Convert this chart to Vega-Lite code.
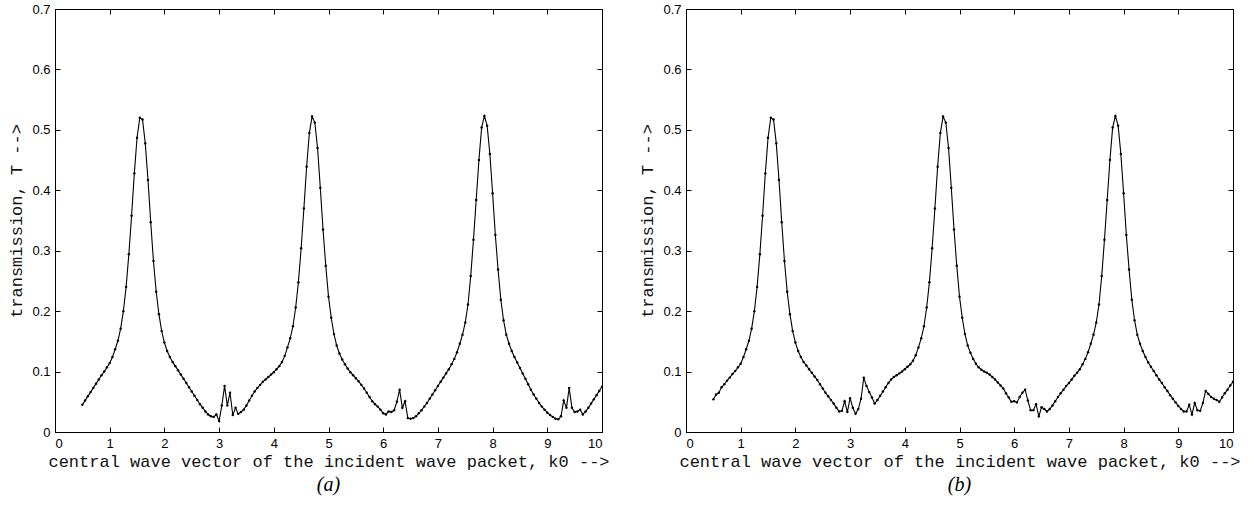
{
  "$schema": "https://vega.github.io/schema/vega-lite/v6.json",
  "background": "white",
  "padding": {"left": 7, "top": 2, "right": 5, "bottom": 0},
  "spacing": 28,
  "config": {
    "view": {"stroke": "black", "strokeWidth": 1},
    "axis": {
      "grid": false,
      "labelFont": "Liberation Sans",
      "labelFontSize": 13,
      "labelColor": "black",
      "titleFont": "Liberation Mono",
      "titleFontSize": 17,
      "titleFontWeight": "normal",
      "titleColor": "#111",
      "tickColor": "black",
      "domainColor": "black",
      "tickSize": -5,
      "labelPadding": 10
    },
    "title": {"font": "Liberation Serif", "fontStyle": "italic", "fontSize": 20, "fontWeight": "normal", "color": "black"}
  },
  "datasets": {
    "a": [
      {"k":0.5,"T":0.045},{"k":0.55,"T":0.052},{"k":0.6,"T":0.059},{"k":0.65,"T":0.066},{"k":0.7,"T":0.073},{"k":0.75,"T":0.080},{"k":0.8,"T":0.087},{"k":0.85,"T":0.094},{"k":0.9,"T":0.100},{"k":0.95,"T":0.107},
      {"k":1.0,"T":0.114},{"k":1.05,"T":0.124},{"k":1.1,"T":0.137},{"k":1.15,"T":0.151},{"k":1.2,"T":0.171},{"k":1.25,"T":0.200},{"k":1.3,"T":0.240},{"k":1.35,"T":0.294},{"k":1.4,"T":0.358},{"k":1.45,"T":0.428},
      {"k":1.5,"T":0.487},{"k":1.55,"T":0.520},{"k":1.6,"T":0.517},{"k":1.65,"T":0.478},{"k":1.7,"T":0.417},{"k":1.75,"T":0.347},{"k":1.8,"T":0.283},{"k":1.85,"T":0.232},{"k":1.9,"T":0.195},{"k":1.95,"T":0.167},
      {"k":2.0,"T":0.148},{"k":2.05,"T":0.134},{"k":2.1,"T":0.124},{"k":2.15,"T":0.116},{"k":2.2,"T":0.109},{"k":2.25,"T":0.102},{"k":2.3,"T":0.095},{"k":2.35,"T":0.088},{"k":2.4,"T":0.081},{"k":2.45,"T":0.074},
      {"k":2.5,"T":0.067},{"k":2.55,"T":0.060},{"k":2.6,"T":0.053},{"k":2.65,"T":0.046},{"k":2.7,"T":0.040},{"k":2.75,"T":0.034},{"k":2.8,"T":0.029},{"k":2.85,"T":0.026},{"k":2.9,"T":0.025},{"k":2.95,"T":0.029},
      {"k":3.0,"T":0.018},{"k":3.05,"T":0.044},{"k":3.1,"T":0.076},{"k":3.15,"T":0.044},{"k":3.2,"T":0.065},{"k":3.25,"T":0.028},{"k":3.3,"T":0.040},{"k":3.35,"T":0.030},{"k":3.4,"T":0.033},{"k":3.45,"T":0.037},
      {"k":3.5,"T":0.044},{"k":3.55,"T":0.052},{"k":3.6,"T":0.060},{"k":3.65,"T":0.067},{"k":3.7,"T":0.073},{"k":3.75,"T":0.078},{"k":3.8,"T":0.083},{"k":3.85,"T":0.087},{"k":3.9,"T":0.091},{"k":3.95,"T":0.095},
      {"k":4.0,"T":0.099},{"k":4.05,"T":0.104},{"k":4.1,"T":0.109},{"k":4.15,"T":0.116},{"k":4.2,"T":0.126},{"k":4.25,"T":0.140},{"k":4.3,"T":0.155},{"k":4.35,"T":0.175},{"k":4.4,"T":0.206},{"k":4.45,"T":0.248},
      {"k":4.5,"T":0.304},{"k":4.55,"T":0.370},{"k":4.6,"T":0.439},{"k":4.65,"T":0.495},{"k":4.7,"T":0.522},{"k":4.75,"T":0.512},{"k":4.8,"T":0.470},{"k":4.85,"T":0.404},{"k":4.9,"T":0.335},{"k":4.95,"T":0.275},
      {"k":5.0,"T":0.224},{"k":5.05,"T":0.189},{"k":5.1,"T":0.162},{"k":5.15,"T":0.143},{"k":5.2,"T":0.130},{"k":5.25,"T":0.120},{"k":5.3,"T":0.112},{"k":5.35,"T":0.105},{"k":5.4,"T":0.099},{"k":5.45,"T":0.094},
      {"k":5.5,"T":0.089},{"k":5.55,"T":0.084},{"k":5.6,"T":0.078},{"k":5.65,"T":0.072},{"k":5.7,"T":0.065},{"k":5.75,"T":0.058},{"k":5.8,"T":0.051},{"k":5.85,"T":0.046},{"k":5.9,"T":0.042},{"k":5.95,"T":0.037},
      {"k":6.0,"T":0.031},{"k":6.05,"T":0.029},{"k":6.1,"T":0.034},{"k":6.15,"T":0.033},{"k":6.2,"T":0.036},{"k":6.25,"T":0.050},{"k":6.3,"T":0.070},{"k":6.35,"T":0.040},{"k":6.4,"T":0.051},{"k":6.45,"T":0.023},
      {"k":6.5,"T":0.022},{"k":6.55,"T":0.023},{"k":6.6,"T":0.026},{"k":6.65,"T":0.031},{"k":6.7,"T":0.036},{"k":6.75,"T":0.042},{"k":6.8,"T":0.048},{"k":6.85,"T":0.055},{"k":6.9,"T":0.062},{"k":6.95,"T":0.069},
      {"k":7.0,"T":0.076},{"k":7.05,"T":0.083},{"k":7.1,"T":0.090},{"k":7.15,"T":0.097},{"k":7.2,"T":0.104},{"k":7.25,"T":0.112},{"k":7.3,"T":0.121},{"k":7.35,"T":0.132},{"k":7.4,"T":0.146},{"k":7.45,"T":0.161},
      {"k":7.5,"T":0.181},{"k":7.55,"T":0.211},{"k":7.6,"T":0.258},{"k":7.65,"T":0.318},{"k":7.7,"T":0.384},{"k":7.75,"T":0.450},{"k":7.8,"T":0.504},{"k":7.85,"T":0.523},{"k":7.9,"T":0.507},{"k":7.95,"T":0.460},
      {"k":8.0,"T":0.395},{"k":8.05,"T":0.326},{"k":8.1,"T":0.269},{"k":8.15,"T":0.219},{"k":8.2,"T":0.185},{"k":8.25,"T":0.161},{"k":8.3,"T":0.146},{"k":8.35,"T":0.134},{"k":8.4,"T":0.124},{"k":8.45,"T":0.115},
      {"k":8.5,"T":0.106},{"k":8.55,"T":0.097},{"k":8.6,"T":0.088},{"k":8.65,"T":0.079},{"k":8.7,"T":0.070},{"k":8.75,"T":0.062},{"k":8.8,"T":0.055},{"k":8.85,"T":0.048},{"k":8.9,"T":0.042},{"k":8.95,"T":0.037},
      {"k":9.0,"T":0.032},{"k":9.05,"T":0.028},{"k":9.1,"T":0.025},{"k":9.15,"T":0.022},{"k":9.2,"T":0.021},{"k":9.25,"T":0.026},{"k":9.3,"T":0.052},{"k":9.35,"T":0.040},{"k":9.4,"T":0.073},{"k":9.45,"T":0.040},
      {"k":9.5,"T":0.033},{"k":9.55,"T":0.034},{"k":9.6,"T":0.037},{"k":9.65,"T":0.029},{"k":9.7,"T":0.034},{"k":9.75,"T":0.040},{"k":9.8,"T":0.047},{"k":9.85,"T":0.054},{"k":9.9,"T":0.061},{"k":9.95,"T":0.068},
      {"k":10.0,"T":0.075}
    ],
    "b": [
      {"k":0.5,"T":0.054},{"k":0.55,"T":0.062},{"k":0.6,"T":0.065},{"k":0.65,"T":0.074},{"k":0.7,"T":0.079},{"k":0.75,"T":0.085},{"k":0.8,"T":0.090},{"k":0.85,"T":0.096},{"k":0.9,"T":0.101},{"k":0.95,"T":0.107},
      {"k":1.0,"T":0.113},{"k":1.05,"T":0.124},{"k":1.1,"T":0.137},{"k":1.15,"T":0.151},{"k":1.2,"T":0.171},{"k":1.25,"T":0.200},{"k":1.3,"T":0.240},{"k":1.35,"T":0.294},{"k":1.4,"T":0.358},{"k":1.45,"T":0.428},
      {"k":1.5,"T":0.487},{"k":1.55,"T":0.520},{"k":1.6,"T":0.517},{"k":1.65,"T":0.478},{"k":1.7,"T":0.417},{"k":1.75,"T":0.347},{"k":1.8,"T":0.283},{"k":1.85,"T":0.232},{"k":1.9,"T":0.195},{"k":1.95,"T":0.167},
      {"k":2.0,"T":0.148},{"k":2.05,"T":0.134},{"k":2.1,"T":0.124},{"k":2.15,"T":0.116},{"k":2.2,"T":0.110},{"k":2.25,"T":0.104},{"k":2.3,"T":0.098},{"k":2.35,"T":0.092},{"k":2.4,"T":0.086},{"k":2.45,"T":0.079},
      {"k":2.5,"T":0.072},{"k":2.55,"T":0.065},{"k":2.6,"T":0.059},{"k":2.65,"T":0.053},{"k":2.7,"T":0.047},{"k":2.75,"T":0.040},{"k":2.8,"T":0.034},{"k":2.85,"T":0.035},{"k":2.9,"T":0.051},{"k":2.95,"T":0.033},
      {"k":3.0,"T":0.056},{"k":3.05,"T":0.040},{"k":3.1,"T":0.030},{"k":3.15,"T":0.038},{"k":3.2,"T":0.055},{"k":3.25,"T":0.090},{"k":3.3,"T":0.076},{"k":3.35,"T":0.066},{"k":3.4,"T":0.057},{"k":3.45,"T":0.047},
      {"k":3.5,"T":0.053},{"k":3.55,"T":0.060},{"k":3.6,"T":0.067},{"k":3.65,"T":0.074},{"k":3.7,"T":0.081},{"k":3.75,"T":0.087},{"k":3.8,"T":0.091},{"k":3.85,"T":0.094},{"k":3.9,"T":0.097},{"k":3.95,"T":0.100},
      {"k":4.0,"T":0.104},{"k":4.05,"T":0.108},{"k":4.1,"T":0.112},{"k":4.15,"T":0.118},{"k":4.2,"T":0.127},{"k":4.25,"T":0.140},{"k":4.3,"T":0.155},{"k":4.35,"T":0.175},{"k":4.4,"T":0.206},{"k":4.45,"T":0.248},
      {"k":4.5,"T":0.304},{"k":4.55,"T":0.370},{"k":4.6,"T":0.439},{"k":4.65,"T":0.495},{"k":4.7,"T":0.522},{"k":4.75,"T":0.512},{"k":4.8,"T":0.470},{"k":4.85,"T":0.404},{"k":4.9,"T":0.335},{"k":4.95,"T":0.275},
      {"k":5.0,"T":0.224},{"k":5.05,"T":0.189},{"k":5.1,"T":0.162},{"k":5.15,"T":0.143},{"k":5.2,"T":0.131},{"k":5.25,"T":0.121},{"k":5.3,"T":0.113},{"k":5.35,"T":0.107},{"k":5.4,"T":0.103},{"k":5.45,"T":0.100},
      {"k":5.5,"T":0.098},{"k":5.55,"T":0.095},{"k":5.6,"T":0.091},{"k":5.65,"T":0.087},{"k":5.7,"T":0.082},{"k":5.75,"T":0.077},{"k":5.8,"T":0.072},{"k":5.85,"T":0.064},{"k":5.9,"T":0.057},{"k":5.95,"T":0.050},
      {"k":6.0,"T":0.051},{"k":6.05,"T":0.049},{"k":6.1,"T":0.058},{"k":6.15,"T":0.065},{"k":6.2,"T":0.070},{"k":6.25,"T":0.052},{"k":6.3,"T":0.036},{"k":6.35,"T":0.036},{"k":6.4,"T":0.046},{"k":6.45,"T":0.026},
      {"k":6.5,"T":0.041},{"k":6.55,"T":0.038},{"k":6.6,"T":0.034},{"k":6.65,"T":0.038},{"k":6.7,"T":0.044},{"k":6.75,"T":0.051},{"k":6.8,"T":0.058},{"k":6.85,"T":0.064},{"k":6.9,"T":0.070},{"k":6.95,"T":0.076},
      {"k":7.0,"T":0.081},{"k":7.05,"T":0.087},{"k":7.1,"T":0.093},{"k":7.15,"T":0.098},{"k":7.2,"T":0.104},{"k":7.25,"T":0.112},{"k":7.3,"T":0.121},{"k":7.35,"T":0.132},{"k":7.4,"T":0.146},{"k":7.45,"T":0.161},
      {"k":7.5,"T":0.181},{"k":7.55,"T":0.211},{"k":7.6,"T":0.258},{"k":7.65,"T":0.318},{"k":7.7,"T":0.384},{"k":7.75,"T":0.450},{"k":7.8,"T":0.504},{"k":7.85,"T":0.523},{"k":7.9,"T":0.507},{"k":7.95,"T":0.460},
      {"k":8.0,"T":0.395},{"k":8.05,"T":0.326},{"k":8.1,"T":0.269},{"k":8.15,"T":0.219},{"k":8.2,"T":0.185},{"k":8.25,"T":0.161},{"k":8.3,"T":0.146},{"k":8.35,"T":0.134},{"k":8.4,"T":0.124},{"k":8.45,"T":0.115},
      {"k":8.5,"T":0.108},{"k":8.55,"T":0.101},{"k":8.6,"T":0.094},{"k":8.65,"T":0.087},{"k":8.7,"T":0.081},{"k":8.75,"T":0.074},{"k":8.8,"T":0.068},{"k":8.85,"T":0.061},{"k":8.9,"T":0.055},{"k":8.95,"T":0.049},
      {"k":9.0,"T":0.043},{"k":9.05,"T":0.038},{"k":9.1,"T":0.034},{"k":9.15,"T":0.034},{"k":9.2,"T":0.045},{"k":9.25,"T":0.029},{"k":9.3,"T":0.048},{"k":9.35,"T":0.036},{"k":9.4,"T":0.035},{"k":9.45,"T":0.048},
      {"k":9.5,"T":0.068},{"k":9.55,"T":0.063},{"k":9.6,"T":0.058},{"k":9.65,"T":0.055},{"k":9.7,"T":0.053},{"k":9.75,"T":0.050},{"k":9.8,"T":0.057},{"k":9.85,"T":0.064},{"k":9.9,"T":0.070},{"k":9.95,"T":0.077},
      {"k":10.0,"T":0.083}
    ]
  },
  "hconcat": [
    {
      "width": 547, "height": 423,
      "data": {"name": "a"},
      "title": {"text": "(a)", "orient": "bottom", "anchor": "middle", "frame": "group", "offset": 6},
      "layer": [
        {
          "mark": {"type": "line", "color": "black", "strokeWidth": 1.1},
          "encoding": {
            "x": {"field": "k", "type": "quantitative", "scale": {"domain": [0, 10], "nice": false},
                  "axis": {"orient": "bottom", "values": [0,1,2,3,4,5,6,7,8,9,10], "format": "d", "title": "central wave vector of the incident wave packet, k0 -->", "titlePadding": 3}},
            "y": {"field": "T", "type": "quantitative", "scale": {"domain": [0, 0.7], "nice": false},
                  "axis": {"orient": "left", "values": [0,0.1,0.2,0.3,0.4,0.5,0.6,0.7], "format": "~g", "title": "transmission, T -->", "titlePadding": 6}}
          }
        },
        {
          "mark": {"type": "point", "filled": true, "size": 6, "color": "black", "opacity": 1},
          "encoding": {
            "x": {"field": "k", "type": "quantitative", "scale": {"domain": [0, 10], "nice": false},
                  "axis": {"orient": "top", "values": [0,1,2,3,4,5,6,7,8,9,10], "labels": false, "title": null}},
            "y": {"field": "T", "type": "quantitative", "scale": {"domain": [0, 0.7], "nice": false},
                  "axis": {"orient": "right", "values": [0,0.1,0.2,0.3,0.4,0.5,0.6,0.7], "labels": false, "title": null}}
          }
        }
      ],
      "resolve": {"axis": {"x": "independent", "y": "independent"}}
    },
    {
      "width": 547, "height": 423,
      "data": {"name": "b"},
      "title": {"text": "(b)", "orient": "bottom", "anchor": "middle", "frame": "group", "offset": 6},
      "layer": [
        {
          "mark": {"type": "line", "color": "black", "strokeWidth": 1.1},
          "encoding": {
            "x": {"field": "k", "type": "quantitative", "scale": {"domain": [0, 10], "nice": false},
                  "axis": {"orient": "bottom", "values": [0,1,2,3,4,5,6,7,8,9,10], "format": "d", "title": "central wave vector of the incident wave packet, k0 -->", "titlePadding": 3}},
            "y": {"field": "T", "type": "quantitative", "scale": {"domain": [0, 0.7], "nice": false},
                  "axis": {"orient": "left", "values": [0,0.1,0.2,0.3,0.4,0.5,0.6,0.7], "format": "~g", "title": "transmission, T -->", "titlePadding": 6}}
          }
        },
        {
          "mark": {"type": "point", "filled": true, "size": 6, "color": "black", "opacity": 1},
          "encoding": {
            "x": {"field": "k", "type": "quantitative", "scale": {"domain": [0, 10], "nice": false},
                  "axis": {"orient": "top", "values": [0,1,2,3,4,5,6,7,8,9,10], "labels": false, "title": null}},
            "y": {"field": "T", "type": "quantitative", "scale": {"domain": [0, 0.7], "nice": false},
                  "axis": {"orient": "right", "values": [0,0.1,0.2,0.3,0.4,0.5,0.6,0.7], "labels": false, "title": null}}
          }
        }
      ],
      "resolve": {"axis": {"x": "independent", "y": "independent"}}
    }
  ]
}
